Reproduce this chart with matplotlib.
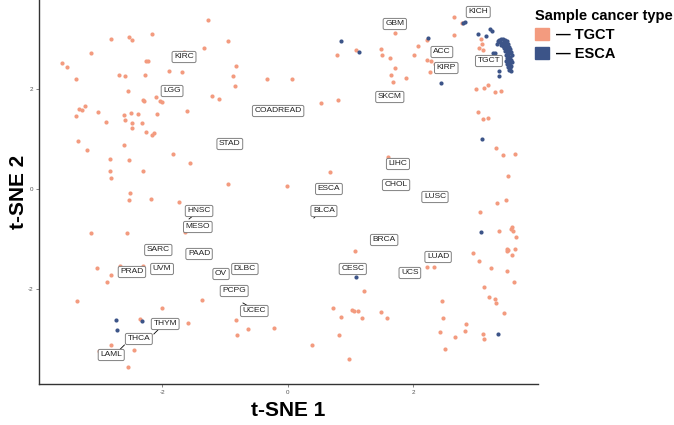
import matplotlib
matplotlib.use('Agg')
import matplotlib.pyplot as plt
from matplotlib.patches import Patch

plt.rcParams['font.family'] = ['Liberation Sans', 'DejaVu Sans']
plt.rcParams['axes.unicode_minus'] = False

# TGCT samples (t-SNE coordinates)
tgct_x = [-1.27, -2.81, -2.53, -2.48, -2.16, -0.95, -1.33, -3.13, -1.65, -3.59, -3.51, -2.25, -2.22,
          -3.37, -2.69, -2.59, -2.27, -1.89, -1.68, -0.82, -0.87, -0.84, -0.33, 0.07, -2.54, -2.31,
          -2.29, -2.10, -2.03, -2.00, -1.20, -1.09, 0.53, 0.80, 0.79, -3.32, -3.27, -3.23, -3.37,
          -3.02, -2.89, -2.61, -2.59, -2.49, -2.38, -2.48, -2.48, -2.32, -2.08, -1.60, -2.25, -2.13,
          -2.16, -3.34, -3.20, -2.61, -1.82, -2.83, -2.53, -1.55, -2.83, -2.81, -2.30, 0.68, -0.95,
          -0.01, -2.51, -2.18,
          2.65, 2.78, 2.65, 2.22, 1.09, 1.49, 1.51, 1.63, 2.08, 2.02, 2.22, 2.29, 2.35, 2.27, 1.71,
          1.71, 1.65, 1.68, 1.89, 3.08, 3.10, 3.05, 3.12, 3.00, 3.13, 3.20, 3.31, 3.40, 3.04, 3.12,
          3.20, 3.32, 3.43, 3.63, 3.51, 1.60,
          -2.53, -1.73, -3.13, -2.56, -1.63, -2.67, -2.30, -3.04, -2.81, -2.88, -3.35, -1.36, -2.00,
          0.73, -2.35, -1.59, -0.82, -0.80, -0.63, -0.22, -2.19, -2.81, -2.45, 0.39, 0.82, -2.54,
          -3.00, 0.98,
          3.34, 3.48, 3.07, 3.37, 3.58, 3.59, 3.56, 3.64, 3.50, 3.51, 3.63, 3.50, 3.58, 2.96, 3.05,
          3.24, 3.50, 3.61, 3.13, 3.21, 3.31, 3.32, 3.45, 3.12, 3.13, 2.84, 2.83, 2.67, 2.51, 2.46,
          2.48, 2.43, 2.22, 2.33, 1.08, 1.22, 0.85, 1.03, 1.06, 1.12, 1.19, 1.49, 1.59]
tgct_y = [3.38, 3.00, 3.04, 2.98, 3.10, 2.96, 2.82, 2.72, 2.74, 2.52, 2.44, 2.56, 2.56,
          2.20, 2.28, 2.26, 2.28, 2.36, 2.34, 2.46, 2.26, 2.06, 2.20, 2.20, 1.96, 1.78,
          1.76, 1.84, 1.76, 1.74, 1.86, 1.80, 1.72, 1.78, 2.68, 1.60, 1.58, 1.66, 1.46,
          1.54, 1.34, 1.48, 1.38, 1.52, 1.50, 1.32, 1.22, 1.32, 1.50, 1.56, 1.14, 1.12,
          1.08, 0.96, 0.78, 0.88, 0.70, 0.60, 0.58, 0.52, 0.36, 0.22, 0.36, 0.34, 0.10,
          0.06, -0.08, -0.20,
          3.44, 3.32, 3.08, 2.98, 2.78, 2.80, 2.68, 2.62, 2.86, 2.68, 2.58, 2.56, 2.50, 2.34, 3.12,
          2.42, 2.28, 2.14, 2.22, 3.00, 2.90, 2.82, 2.78, 2.00, 2.02, 2.08, 1.94, 1.96, 1.54, 1.40,
          1.42, 0.82, 0.68, 0.70, 0.26, 0.64,
          -0.22, -0.26, -0.88, -0.88, -0.86, -1.54, -1.54, -1.58, -1.72, -1.86, -2.24, -2.22, -2.38,
          -2.38, -2.60, -2.68, -2.62, -2.92, -2.80, -2.78, -2.92, -3.12, -3.22, -3.12, -2.92, -3.56,
          -3.24, -3.40,
          -0.28, -0.22, -0.46, -0.84, -0.76, -0.84, -0.80, -0.96, -1.20, -1.22, -1.20, -1.24, -1.32,
          -1.28, -1.44, -1.58, -1.64, -1.86, -1.96, -2.16, -2.20, -2.28, -2.48, -2.90, -3.00, -2.70,
          -2.84, -2.96, -3.20, -2.24, -2.58, -2.86, -1.56, -1.56, -1.24, -2.04, -2.56, -2.42, -2.44,
          -2.44, -2.58, -2.46, -2.58]

# ESCA samples
esca_x = [0.85, 1.14, 2.24, 2.45, 2.80, 2.83, 3.04, 3.23, 3.26, 3.16, 3.27, 3.31, 3.37, 3.37,
          3.10, 3.08, 3.35, 1.09, -2.73, -2.32, -2.72,
          3.37, 3.40, 3.43, 3.47, 3.50, 3.39, 3.42, 3.45, 3.48, 3.51, 3.40, 3.43, 3.47, 3.50, 3.53,
          3.45, 3.48, 3.51, 3.55, 3.47, 3.50, 3.53, 3.56, 3.48, 3.51, 3.55, 3.50, 3.53, 3.56, 3.48,
          3.51, 3.55, 3.50, 3.53, 3.56, 3.51, 3.55, 3.53, 3.56, 3.34, 3.35, 3.58, 3.58]
esca_y = [2.96, 2.74, 3.02, 2.12, 3.32, 3.34, 3.10, 3.20, 3.16, 3.06, 2.72, 2.72, 2.36, 2.26,
          1.00, -0.86, -2.90, -1.76, -2.62, -2.64, -2.82,
          2.98, 3.00, 3.00, 2.98, 2.96, 2.94, 2.92, 2.94, 2.92, 2.90, 2.88, 2.86, 2.88, 2.86, 2.84,
          2.82, 2.80, 2.78, 2.80, 2.76, 2.74, 2.72, 2.74, 2.68, 2.66, 2.64, 2.62, 2.60, 2.58, 2.56,
          2.54, 2.52, 2.50, 2.48, 2.46, 2.44, 2.42, 2.38, 2.36, 2.90, 2.96, 2.68, 2.54]

# cancer type labels (label position)
types = ['KIRC', 'LGG', 'COADREAD', 'STAD', 'ESCA', 'KICH', 'GBM', 'ACC', 'KIRP', 'TGCT',
         'SKCM', 'LIHC', 'CHOL', 'LUSC', 'BLCA', 'BRCA', 'LUAD', 'CESC', 'UCS', 'HNSC',
         'MESO', 'SARC', 'PAAD', 'PRAD', 'UVM', 'OV', 'DLBC', 'PCPG', 'UCEC', 'THYM',
         'THCA', 'LAML']
lab_x = [-1.65, -1.84, -0.15, -0.92, 0.66, 3.04, 1.71, 2.46, 2.53, 3.21,
         1.63, 1.76, 1.73, 2.35, 0.58, 1.54, 2.40, 1.04, 1.95, -1.41,
         -1.43, -2.06, -1.41, -2.48, -2.00, -1.06, -0.68, -0.85, -0.53, -1.95,
         -2.37, -2.81]
lab_y = [2.64, 1.96, 1.56, 0.90, 0.00, 3.54, 3.30, 2.74, 2.42, 2.56,
         1.84, 0.50, 0.08, -0.16, -0.44, -1.02, -1.36, -1.60, -1.68, -0.44,
         -0.76, -1.22, -1.30, -1.66, -1.60, -1.70, -1.60, -2.04, -2.44, -2.70,
         -3.00, -3.32]

# repel segments: (type, from, to)
seg_types = ['HNSC', 'BLCA', 'UCEC', 'THYM', 'THCA']
seg_x0 = [-1.49, 0.48, -0.63, -2.05, -2.60]
seg_y0 = [-0.52, -0.50, -2.34, -2.80, -3.12]
seg_x1 = [-1.57, 0.42, -0.71, -2.13, -2.68]
seg_y1 = [-0.60, -0.58, -2.28, -2.90, -3.22]

c_tgct = '#F39B7F'
c_esca = '#3C5488'

fig = plt.figure(figsize=(6.74, 4.25), dpi=100)
ax = fig.add_axes([0.058, 0.0965, 0.74, 0.9035])

ax.scatter(tgct_x, tgct_y, s=9, color=c_tgct, linewidths=0, zorder=2)
ax.scatter(esca_x, esca_y, s=9, color=c_esca, linewidths=0, zorder=3)

for i in range(len(seg_types)):
    ax.plot([seg_x0[i], seg_x1[i]], [seg_y0[i], seg_y1[i]], color='black', lw=0.6, zorder=4)

for t, x, y in zip(types, lab_x, lab_y):
    ax.text(x, y, t, fontsize=6, ha='center', va='center', color='#222222', zorder=5,
            bbox=dict(boxstyle='round,pad=0.25,rounding_size=0.2', fc='white', ec='#808080', lw=0.7))

ax.set_xlim(-3.96, 3.99)
ax.set_ylim(-3.9, 3.78)
ax.set_xticks([-2, 0, 2])
ax.set_yticks([-2, 0, 2])
ax.tick_params(labelsize=4.5, labelcolor='#555555', length=2, width=0.5, color='#555555', pad=2)
for s in ['top', 'right']:
    ax.spines[s].set_visible(False)
for s in ['left', 'bottom']:
    ax.spines[s].set_linewidth(1.0)
    ax.spines[s].set_color('#333333')

ax.set_xlabel('t-SNE 1', fontsize=15, fontweight='bold')
ax.set_ylabel('t-SNE 2', fontsize=15, fontweight='bold')
ax.xaxis.set_label_coords(0.5, -0.068)
ax.yaxis.set_label_coords(-0.042, 0.5)
ax.xaxis.label.set_va('center')
ax.yaxis.label.set_va('center')

handles = [Patch(color=c_tgct, label='\u2014 TGCT'), Patch(color=c_esca, label='\u2014 ESCA')]
leg = fig.legend(handles=handles, title='Sample cancer type', loc='upper left',
                 bbox_to_anchor=(0.775, 1.01), frameon=False, handlelength=0.9, handleheight=0.9,
                 handletextpad=0.5, labelspacing=0.35,
                 prop={'size': 10.5, 'weight': 'bold'},
                 title_fontproperties={'size': 10.5, 'weight': 'bold'})
leg._legend_box.align = 'left'

fig.savefig('out.png', dpi=100)
